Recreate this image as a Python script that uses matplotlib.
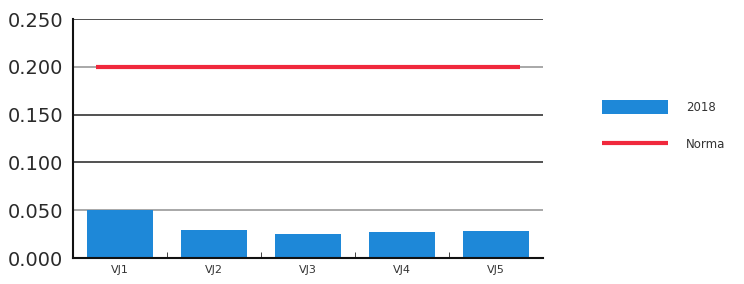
import matplotlib
matplotlib.use("Agg")
import matplotlib.pyplot as plt
import numpy as np

plt.rcParams["font.family"] = ["DejaVu Sans"]

categorias = ["VJ1", "VJ2", "VJ3", "VJ4", "VJ5"]
valores_2018 = [0.050, 0.029, 0.025, 0.027, 0.028]
norma = 0.200
y_ticks = [0.000, 0.050, 0.100, 0.150, 0.200, 0.250]

fig = plt.figure(figsize=(7.44, 2.84), dpi=100)
ax = fig.add_axes([0.098, 0.0915, 0.632, 0.8415])

x = np.arange(len(categorias))

# grid
for t in y_ticks[1:]:
    color = "#9a9a9a" if t in (0.050, 0.200) else "#333333"
    ax.axhline(t, color=color, lw=1.2, zorder=1)

barras = ax.bar(x, valores_2018, width=0.7, color="#1e88d8", zorder=2, label="2018")
linea, = ax.plot([x[0] - 0.25, x[-1] + 0.25], [norma, norma], color="#f0283c", lw=3,
                 zorder=3, label="Norma", solid_capstyle="butt")

ax.set_xlim(-0.5, len(categorias) - 0.5)
ax.set_ylim(0, 0.25)
ax.set_yticks(y_ticks)
ax.set_yticklabels([f"{t:.3f}" for t in y_ticks], fontsize=14, color="#2a2a2a",
                   fontweight="medium")
ax.tick_params(axis="y", length=0, pad=7)

ax.set_xticks(x)
ax.set_xticklabels(categorias, fontsize=8, color="#333333")
ax.tick_params(axis="x", length=0, pad=5)
# little ticks between the groups
ax.set_xticks(x[1:] - 0.5, minor=True)
ax.tick_params(axis="x", which="minor", direction="in", length=4, color="#222222")

for s in ["top", "right"]:
    ax.spines[s].set_visible(False)
ax.spines["left"].set_color("#111111")
ax.spines["bottom"].set_color("#111111")
ax.spines["left"].set_linewidth(1.5)
ax.spines["bottom"].set_linewidth(1.5)

leg = fig.legend([barras, linea], ["2018", "Norma"], loc="upper left",
                 bbox_to_anchor=(0.795, 0.685), frameon=False,
                 fontsize=8.5, handlelength=5.6, handleheight=1.4,
                 labelspacing=2.0, handletextpad=1.5)
for txt in leg.get_texts():
    txt.set_color("#333333")

fig.savefig("out.png", dpi=100)
